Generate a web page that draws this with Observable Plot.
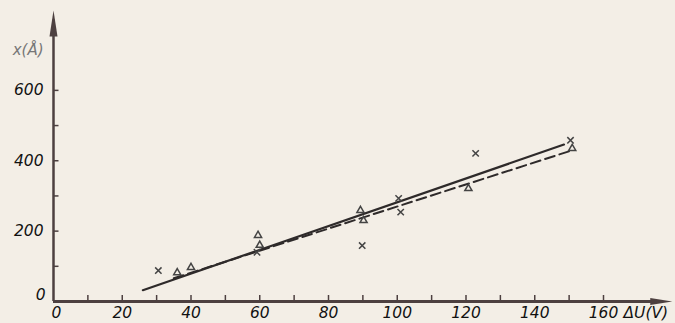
<!DOCTYPE html>
<html>
<head>
<meta charset="utf-8">
<script src="https://cdn.jsdelivr.net/npm/d3@7"></script>
<script src="https://cdn.jsdelivr.net/npm/@observablehq/plot@0.6"></script>
<style>
  html, body { margin: 0; padding: 0; background: #f3eee6; }
  #chart { width: 675px; height: 323px; }
</style>
</head>
<body>
<div id="chart"></div>
<script>
// Tick values and labels
const xTicks = [10, 20, 30, 40, 50, 60, 70, 80, 90, 100, 110, 120, 130, 140, 150, 160];
const xLabels = [20, 40, 60, 80, 100, 120, 140, 160];
const yTicks = [100, 200, 300, 400, 500, 600];
const yLabels = [200, 400, 600];
const originLabel = "0";
const xAxisTitle = "ΔU(V)";
const yAxisTitle = "x(Å)";

// Measured points (ΔU in V, x in Å)
const crossU = [30.5, 59.2, 89.8, 100.4, 101, 122.8, 150.4];
const crossX = [88, 140, 159, 293, 254, 421, 458];
const triU = [36, 40, 59.5, 60, 89.3, 90.2, 120.7, 150.9];
const triX = [82, 97, 188, 160, 259, 230, 321, 435];

// Fitted lines (end points)
const solidU = [26, 148.5];
const solidX = [32, 446];
const dashedU = [35, 151];
const dashedX = [66, 430];

const crosses = crossU.map((u, i) => ({u, x: crossX[i]}));
const triangles = triU.map((u, i) => ({u, x: triX[i]}));
const solid = solidU.map((u, i) => ({u, x: solidX[i]}));
const dashed = dashedU.map((u, i) => ({u, x: dashedX[i]}));

const axisColor = "#4d4040";
const inkColor = "#2e2a2a";
const font = "DejaVu Sans";
const labelStyle = { fontSize: 15.5, fontStyle: "italic", fontFamily: font, fill: "#111" };

// filled, elongated arrow heads (tip at the anchor point)
const arrowUp = { draw(ctx) { ctx.moveTo(0, 0); ctx.lineTo(4, 26); ctx.lineTo(-4, 26); ctx.closePath(); } };
const arrowRight = { draw(ctx) { ctx.moveTo(0, 0); ctx.lineTo(-22, -3.5); ctx.lineTo(-22, 3.5); ctx.closePath(); } };

const chart = Plot.plot({
  width: 675,
  height: 323,
  marginLeft: 53,
  marginRight: 3.25,
  marginTop: 10,
  marginBottom: 22,
  style: { background: "#f3eee6", overflow: "visible" },
  x: { domain: [0, 180], axis: null },
  y: { domain: [0, 827], axis: null },
  marks: [
    // axes lines
    Plot.ruleY([0], { x1: 0, x2: 176, stroke: axisColor, strokeWidth: 3 }),
    Plot.ruleX([0], { y1: 0, y2: 800, stroke: axisColor, strokeWidth: 2.5 }),
    Plot.dot([{u: 0, x: 827}], { x: "u", y: "x", symbol: arrowUp, fill: axisColor, stroke: "none" }),
    Plot.dot([{u: 180, x: 0}], { x: "u", y: "x", symbol: arrowRight, fill: axisColor, stroke: "none" }),
    // tick marks
    Plot.ruleX(xTicks, { x: d => d, y1: 0, y2: 17, stroke: axisColor, strokeWidth: 1.5 }),
    Plot.ruleY(yTicks, { y: d => d, x1: 0, x2: 1.6, stroke: axisColor, strokeWidth: 1.5 }),
    // tick labels
    Plot.text(xLabels, { x: d => d, y: 0, text: d => String(d), dy: 12, ...labelStyle }),
    Plot.text([originLabel], { x: 0, y: 0, text: d => d, dx: 3, dy: 12, ...labelStyle }),
    Plot.text(yLabels, { x: 0, y: d => d, text: d => String(d), dx: -10, textAnchor: "end", ...labelStyle }),
    Plot.text([originLabel], { x: 0, y: 0, text: d => d, dx: -8, dy: -6, textAnchor: "end", ...labelStyle }),
    Plot.text([xAxisTitle], { x: 160, y: 0, text: d => d, dx: 20, dy: 12, textAnchor: "start", ...labelStyle }),
    Plot.text([yAxisTitle], { x: 0, y: 714, text: d => d, dx: -10, textAnchor: "end", fontSize: 15, fontStyle: "italic", fontFamily: font, fill: "#777" }),
    // fitted lines
    Plot.line(dashed, { x: "u", y: "x", stroke: inkColor, strokeWidth: 2, strokeDasharray: "10,5" }),
    Plot.line(solid, { x: "u", y: "x", stroke: inkColor, strokeWidth: 2.2 }),
    // data points
    Plot.dot(crosses, { x: "u", y: "x", symbol: "times", r: 3, stroke: "#444", strokeWidth: 1.5 }),
    Plot.dot(triangles, { x: "u", y: "x", symbol: "triangle2", r: 3.4, stroke: "#444", strokeWidth: 1.5 })
  ]
});
document.getElementById("chart").appendChild(chart);
</script>
</body>
</html>
